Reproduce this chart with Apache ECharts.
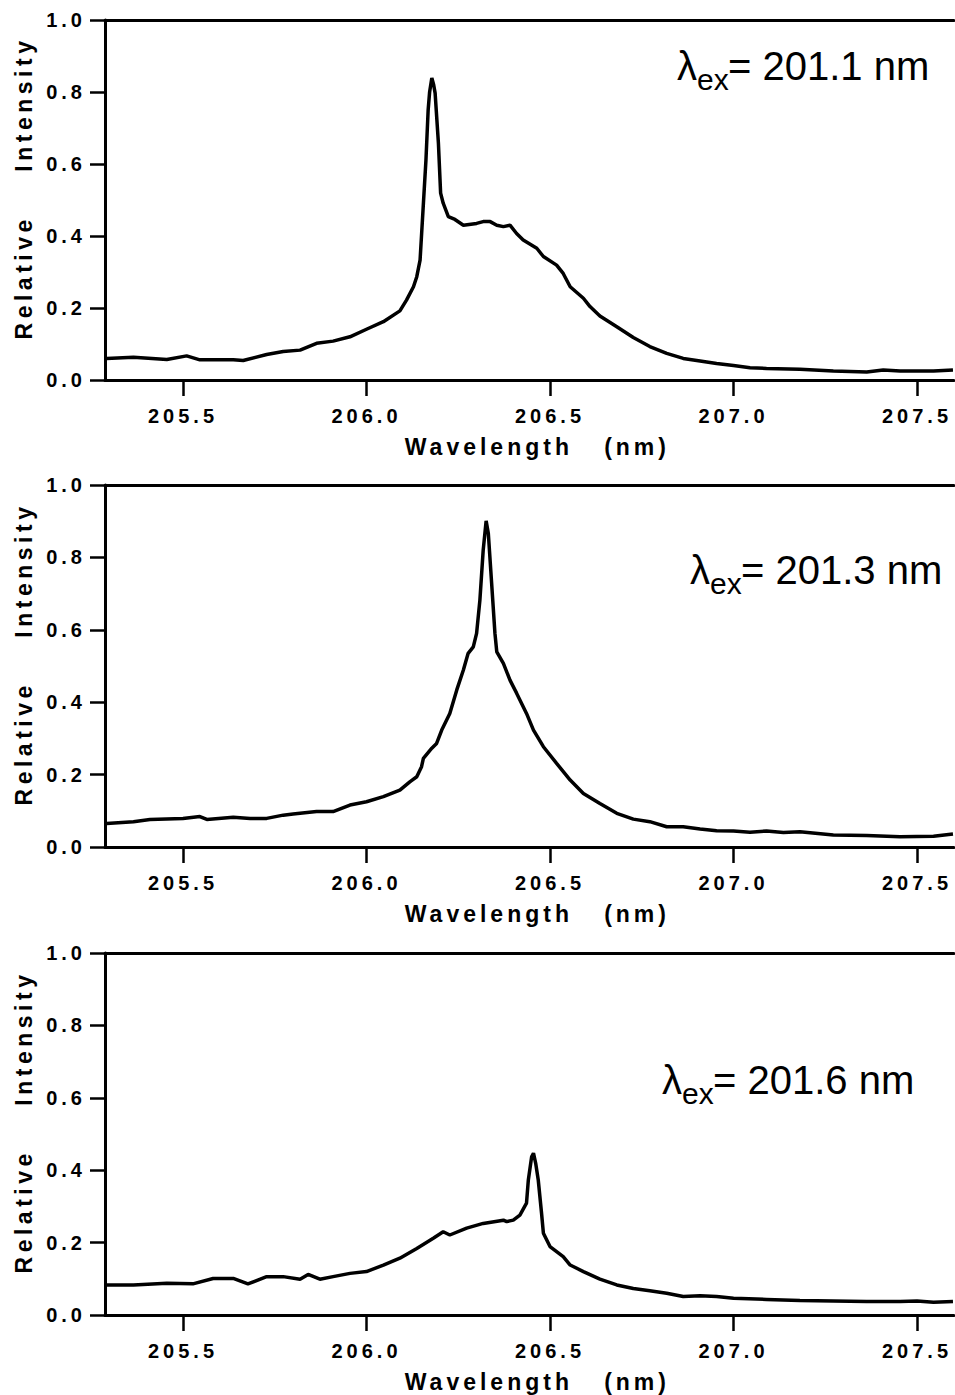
<!DOCTYPE html>
<html><head><meta charset="utf-8">
<script src="https://cdn.jsdelivr.net/npm/echarts@6/dist/echarts.min.js"></script>
<style>html,body{margin:0;padding:0;background:#fff}#c{width:955px;height:1395px}#c text{white-space:pre}</style>
</head><body><div id="c"></div>
<script>
// ---- data ----
const wl1 = [205.292,205.365,205.456,205.510,205.546,205.637,205.664,205.728,205.773,205.819,205.864,205.909,205.955,206.000,206.046,206.091,206.109,206.128,206.137,206.146,206.154,206.162,206.168,206.172,206.178,206.183,206.187,206.196,206.202,206.209,206.223,206.241,206.264,206.300,206.318,206.337,206.355,206.373,206.391,206.409,206.427,206.464,206.482,206.518,206.536,206.555,206.591,206.609,206.636,206.682,206.727,206.772,206.818,206.863,206.909,206.954,207.000,207.045,207.090,207.181,207.272,207.363,207.408,207.454,207.545,207.598];
const int1 = [0.060,0.063,0.057,0.067,0.056,0.056,0.054,0.071,0.079,0.083,0.102,0.108,0.120,0.141,0.162,0.192,0.222,0.259,0.287,0.333,0.472,0.611,0.750,0.800,0.839,0.820,0.797,0.657,0.519,0.491,0.454,0.446,0.430,0.435,0.440,0.440,0.430,0.426,0.430,0.407,0.389,0.366,0.343,0.319,0.296,0.259,0.227,0.204,0.178,0.148,0.118,0.093,0.074,0.060,0.053,0.046,0.040,0.034,0.032,0.030,0.025,0.022,0.028,0.025,0.025,0.028];

const wl2 = [205.292,205.365,205.410,205.500,205.546,205.565,205.637,205.683,205.728,205.773,205.800,205.864,205.909,205.955,206.000,206.046,206.091,206.118,206.137,206.150,206.155,206.178,206.191,206.205,206.227,206.246,206.264,206.277,206.291,206.300,206.309,206.318,206.326,206.332,206.341,206.350,206.355,206.373,206.391,206.409,206.436,206.455,206.482,206.518,206.555,206.591,206.636,206.682,206.727,206.772,206.818,206.863,206.909,206.954,207.000,207.045,207.090,207.136,207.181,207.272,207.363,207.454,207.545,207.598];
const int2 = [0.065,0.070,0.076,0.079,0.084,0.076,0.082,0.079,0.079,0.088,0.091,0.098,0.098,0.116,0.125,0.139,0.157,0.180,0.194,0.222,0.245,0.273,0.286,0.323,0.369,0.434,0.489,0.535,0.553,0.590,0.682,0.820,0.901,0.866,0.728,0.590,0.539,0.507,0.461,0.425,0.369,0.323,0.277,0.231,0.185,0.148,0.120,0.093,0.077,0.070,0.056,0.056,0.050,0.045,0.044,0.041,0.044,0.040,0.042,0.033,0.032,0.028,0.030,0.036];

const wl3 = [205.292,205.365,205.456,205.527,205.582,205.637,205.677,205.728,205.773,205.819,205.841,205.873,205.909,205.955,206.000,206.046,206.091,206.137,206.182,206.209,206.227,206.273,206.318,206.373,206.382,206.400,206.418,206.436,206.441,206.450,206.455,206.461,206.468,206.477,206.482,206.500,206.536,206.555,206.591,206.636,206.682,206.727,206.772,206.818,206.863,206.909,206.954,207.000,207.090,207.181,207.272,207.363,207.454,207.500,207.545,207.598];
const int3 = [0.083,0.083,0.088,0.086,0.101,0.101,0.086,0.106,0.106,0.099,0.112,0.099,0.106,0.115,0.120,0.138,0.157,0.184,0.212,0.230,0.221,0.240,0.253,0.262,0.258,0.262,0.276,0.309,0.373,0.437,0.447,0.419,0.373,0.281,0.226,0.189,0.161,0.138,0.120,0.099,0.083,0.073,0.067,0.060,0.051,0.053,0.051,0.046,0.043,0.040,0.039,0.037,0.037,0.039,0.035,0.037];

const xTicks = [205.5, 206.0, 206.5, 207.0, 207.5];
const excitation = ['201.1', '201.3', '201.6'];
const xName = 'Wavelength   (nm)';
const yName = 'Relative    Intensity';

// ---- layout ----
const FONT = 'Liberation Sans';
const tops = [20, 485, 953];
const heights = [360, 362, 362];
const annot = [[677, 66], [690, 570], [662, 1080]];
const series = [[wl1, int1], [wl2, int2], [wl3, int3]];

const grid = [], xAxis = [], yAxis = [], ser = [], graphic = [];
for (let i = 0; i < 3; i++) {
  grid.push({left: 105, top: tops[i], height: heights[i], width: 848.7});
  xAxis.push({
    gridIndex: i, type: 'value', min: 205.2875, max: 207.6, position: 'bottom',
    axisLine: {show: true, lineStyle: {color: '#000', width: 3}},
    axisTick: {show: true, customValues: xTicks, length: 16, lineStyle: {color: '#000', width: 2.5}},
    axisLabel: {show: true, customValues: xTicks, formatter: v => Number(v).toFixed(1), fontSize: 20, fontWeight: 'bold', color: '#000', margin: 26, fontFamily: FONT},
    splitLine: {show: false},
    name: xName, nameLocation: 'middle', nameGap: 55,
    nameTextStyle: {fontSize: 23, fontWeight: 'bold', color: '#000', fontFamily: FONT, padding: [0, 0, 0, 16]}
  });
  yAxis.push({
    gridIndex: i, type: 'value', min: 0, max: 1, interval: 0.2,
    axisLine: {show: true, lineStyle: {color: '#000', width: 3}},
    axisTick: {show: true, length: 15, lineStyle: {color: '#000', width: 2.5}},
    axisLabel: {show: true, formatter: v => Number(v).toFixed(1), fontSize: 20, fontWeight: 'bold', color: '#000', margin: 19, fontFamily: FONT, showMinLabel: true, showMaxLabel: true},
    splitLine: {show: false},
    name: yName, nameLocation: 'middle', nameGap: 70, nameRotate: 90,
    nameTextStyle: {fontSize: 23, fontWeight: 'bold', color: '#000', fontFamily: FONT, padding: [0, 0, 0, 24]}
  });
  ser.push({
    type: 'line', xAxisIndex: i, yAxisIndex: i, showSymbol: false, symbol: 'none',
    lineStyle: {color: '#000', width: 3.5}, silent: true,
    data: series[i][0].map((x, k) => [x, series[i][1][k]])
  });
  graphic.push({
    type: 'group', x: annot[i][0], y: annot[i][1], silent: true,
    children: [
      {type: 'text', x: 0, y: 0, style: {text: 'λ', fontSize: 40, fontFamily: FONT, fill: '#000', verticalAlign: 'middle', align: 'left'}},
      {type: 'text', x: 20, y: 13, style: {text: 'ex', fontSize: 30, fontFamily: FONT, fill: '#000', verticalAlign: 'middle', align: 'left'}},
      {type: 'text', x: 51, y: 0, style: {text: '= ' + excitation[i] + ' nm', fontSize: 40, fontFamily: FONT, fill: '#000', verticalAlign: 'middle', align: 'left'}}
    ]
  });
}
// top frame lines
for (let i = 0; i < 3; i++) {
  xAxis.push({
    gridIndex: i, type: 'value', min: 205.2875, max: 207.6, position: 'top',
    axisLine: {show: true, lineStyle: {color: '#000', width: 3}},
    axisTick: {show: false}, axisLabel: {show: false}, splitLine: {show: false}
  });
}

const chart = echarts.init(document.getElementById('c'), null, {renderer: 'svg'});
chart.setOption({animation: false, backgroundColor: '#fff', grid, xAxis, yAxis, series: ser, graphic});

function spaceText() {
  document.querySelectorAll('#c text').forEach(t => {
    const s = t.textContent.trim();
    if (/^\d+\.\d$/.test(s)) t.style.letterSpacing = '4px';
    else if (/Wavelength/.test(s)) t.style.letterSpacing = '4px';
    else if (/Relative/.test(s)) t.style.letterSpacing = '4.5px';
  });
}
spaceText();
chart.on('finished', spaceText);
</script></body></html>
